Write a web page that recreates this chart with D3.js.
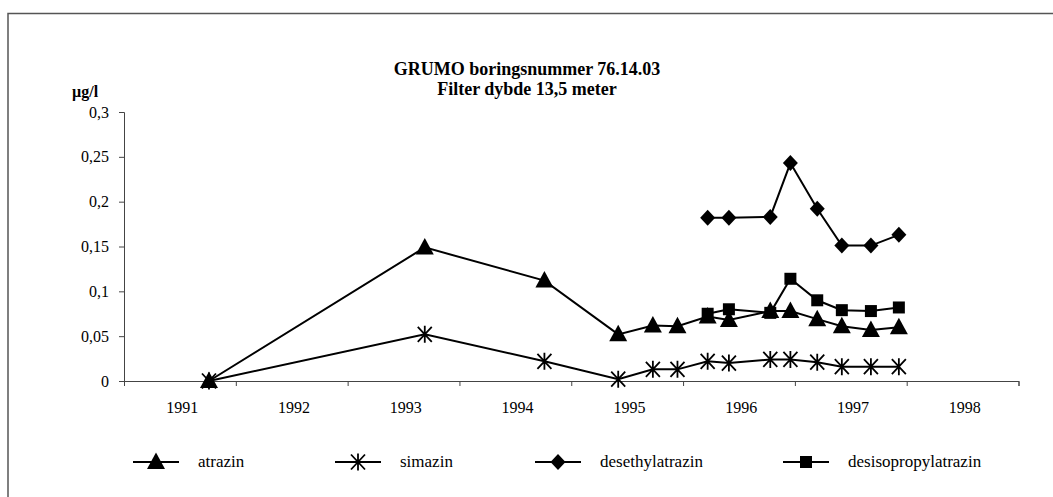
<!DOCTYPE html>
<html>
<head>
<meta charset="utf-8">
<script src="https://cdn.jsdelivr.net/npm/d3@7"></script>
<style>
  body { margin: 0; background: #fff; }
  svg { display: block; font-family: "Liberation Serif", "Times New Roman", serif; }
</style>
</head>
<body>
<div id="chart"></div>
<script>
// Data (x = decimal year of sampling)
const years = [1991.76, 1993.69, 1994.76, 1995.42, 1995.73, 1995.95, 1996.22,
               1996.41, 1996.78, 1996.96, 1997.20, 1997.42, 1997.68, 1997.93];
const atrazin = [0, 0.149, 0.112, 0.052, 0.062, 0.061, 0.072,
                 0.068, 0.078, 0.078, 0.069, 0.061, 0.057, 0.060];
const simazin = [0, 0.052, 0.022, 0.002, 0.013, 0.013, 0.022,
                 0.020, 0.024, 0.024, 0.021, 0.016, 0.016, 0.016];
const lateYears = [1996.22, 1996.41, 1996.78, 1996.96, 1997.20, 1997.42, 1997.68, 1997.93];
const desethylatrazin = [0.182, 0.182, 0.183, 0.243, 0.192, 0.151, 0.151, 0.163];
const desisopropylatrazin = [0.075, 0.080, 0.076, 0.114, 0.090, 0.079, 0.078, 0.082];
const yearLabels = [1991, 1992, 1993, 1994, 1995, 1996, 1997, 1998];
const yTicks = [0, 0.05, 0.1, 0.15, 0.2, 0.25, 0.3];

const W = 1053, H = 497;
const svg = d3.select("#chart").append("svg")
  .attr("width", W).attr("height", H);

// outer frame (only top and left edges visible in the scan)
svg.append("path")
  .attr("d", `M8,${H} L8,13.5 L${W},13.5`)
  .attr("fill", "none").attr("stroke", "#555").attr("stroke-width", 1.5);

const x = d3.scaleLinear().domain([1991, 1999]).range([124, 1018.5]);
const y = d3.scaleLinear().domain([0, 0.3]).range([381, 112]);

// marker shapes
const markers = {
  triangle: "M0,-9.5L9,7L-9,7Z",
  star: "M-7,-7.5L7,7.5M-7,7.5L7,-7.5M0,-8.5L0,8.5",
  diamond: "M0,-8L7.5,0L0,8L-7.5,0Z",
  square: "M-6,-6L6,-6L6,6L-6,6Z"
};

const series = [
  { name: "atrazin", xs: years, ys: atrazin, marker: "triangle" },
  { name: "simazin", xs: years, ys: simazin, marker: "star" },
  { name: "desethylatrazin", xs: lateYears, ys: desethylatrazin, marker: "diamond" },
  { name: "desisopropylatrazin", xs: lateYears, ys: desisopropylatrazin, marker: "square" }
];

function drawMarker(g, type, cx, cy) {
  const p = g.append("path")
    .attr("d", markers[type])
    .attr("transform", `translate(${cx},${cy})`);
  if (type === "star") p.attr("fill", "none").attr("stroke", "#000").attr("stroke-width", 1.8);
  else p.attr("fill", "#000");
}

// Y axis
const yAxis = svg.append("g")
  .attr("transform", `translate(${x(1991)},0)`)
  .call(d3.axisLeft(y).tickValues(yTicks).tickSize(5).tickPadding(10)
    .tickFormat(d => d3.format("~g")(d).replace(".", ",")));
yAxis.select(".domain").attr("stroke", "#444");
yAxis.selectAll(".tick line").attr("stroke", "#444");
yAxis.selectAll("text").attr("font-size", 16).attr("fill", "#000")
  .attr("font-family", "Liberation Serif");

// X axis: ticks at year boundaries, labels centred in each year
const xAxis = svg.append("g")
  .attr("transform", `translate(0,${y(0)})`)
  .call(d3.axisBottom(x).tickValues(d3.range(1991, 2000)).tickSize(5).tickFormat(""));
xAxis.select(".domain").attr("stroke", "#444");
xAxis.selectAll(".tick line").attr("stroke", "#444");

svg.append("g").selectAll("text")
  .data(yearLabels)
  .enter().append("text")
  .attr("x", d => x(d + 0.52))
  .attr("y", y(0) + 32)
  .attr("text-anchor", "middle")
  .attr("font-size", 16)
  .text(d => d);

// lines and markers
const line = d3.line().x(d => x(d[0])).y(d => y(d[1]));
series.forEach(s => {
  const pts = s.xs.map((v, i) => [v, s.ys[i]]);
  svg.append("path")
    .datum(pts)
    .attr("d", line)
    .attr("fill", "none")
    .attr("stroke", "#000")
    .attr("stroke-width", 2);
  const g = svg.append("g");
  pts.forEach(p => drawMarker(g, s.marker, x(p[0]), y(p[1])));
});

// titles
svg.append("text")
  .attr("x", 527).attr("y", 75)
  .attr("text-anchor", "middle")
  .attr("font-size", 18).attr("font-weight", "bold")
  .text("GRUMO boringsnummer 76.14.03");
svg.append("text")
  .attr("x", 527).attr("y", 95)
  .attr("text-anchor", "middle")
  .attr("font-size", 18).attr("font-weight", "bold")
  .text("Filter dybde 13,5 meter");
svg.append("text")
  .attr("x", 72).attr("y", 97)
  .attr("font-size", 16).attr("font-weight", "bold")
  .text("µg/l");

// legend
const legendX = [133, 335, 535, 783];
const legend = svg.append("g");
series.forEach((s, i) => {
  const lx = legendX[i], ly = 462;
  legend.append("line")
    .attr("x1", lx).attr("x2", lx + 46)
    .attr("y1", ly).attr("y2", ly)
    .attr("stroke", "#000").attr("stroke-width", 2);
  drawMarker(legend, s.marker, lx + 23, ly);
  legend.append("text")
    .attr("x", lx + 65).attr("y", ly + 5)
    .attr("font-size", 17)
    .text(s.name);
});
</script>
</body>
</html>
